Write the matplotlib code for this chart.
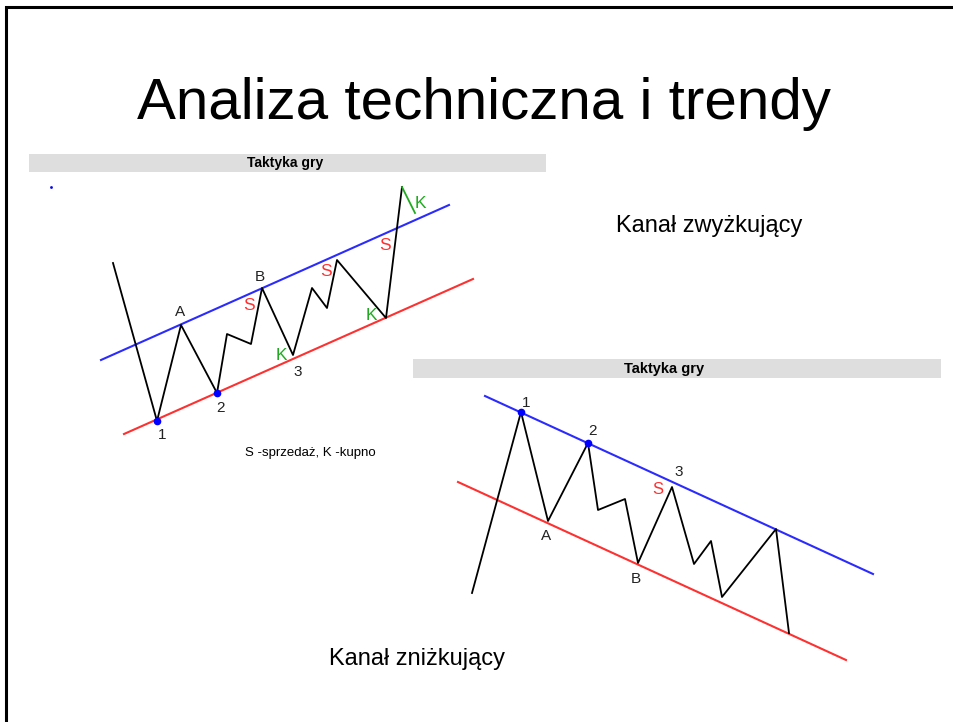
import matplotlib
matplotlib.use("Agg")
import matplotlib.pyplot as plt
from matplotlib.patches import Rectangle

plt.rcParams['font.family'] = ['Liberation Sans', 'DejaVu Sans']

# --- kanał zwyżkujący (górny wykres), współrzędne w pikselach slajdu ---
up_x = [113, 157, 181, 217, 227, 251, 262, 293, 312, 327, 337, 386, 402]
up_y = [263, 421, 325, 393, 334, 344, 288, 355, 288, 308, 260, 318, 187]
up_green_x = [402, 415]
up_green_y = [187, 213]
up_blue_x = [101, 449]
up_blue_y = [360, 205]
up_red_x = [124, 473]
up_red_y = [434, 279]
up_dots_x = [157, 217]
up_dots_y = [421, 393]
up_lab = ["1", "A", "2", "B", "3"]
up_lab_x = [162, 180, 221, 260, 298]
up_lab_y = [435, 312, 408, 277, 372]
up_s_x = [249, 326, 385]
up_s_y = [305, 272, 245]
up_k_x = [281, 371, 420]
up_k_y = [355, 315, 204]

# --- kanał zniżkujący (dolny wykres) ---
dn_x = [472, 521, 548, 588, 598, 625, 638, 672, 694, 711, 722, 776, 789]
dn_y = [593, 412, 521, 443, 510, 499, 563, 487, 564, 541, 597, 529, 633]
dn_blue_x = [485, 873]
dn_blue_y = [396, 574]
dn_red_x = [458, 846]
dn_red_y = [482, 660]
dn_dots_x = [521, 588]
dn_dots_y = [412, 443]
dn_lab = ["1", "2", "3", "A", "B"]
dn_lab_x = [526, 593, 679, 546, 636]
dn_lab_y = [403, 431, 472, 536, 579]
dn_s_x = [658]
dn_s_y = [489]

BLUE = '#2b2bff'
RED = '#ff3030'
GREEN = '#1faa1f'
GRAY = '#dedede'

fig = plt.figure(figsize=(9.54, 7.22), dpi=100)
ax = fig.add_axes([0, 0, 1, 1])
ax.set_xlim(0, 954)
ax.set_ylim(722, 0)
ax.axis('off')

# ramka slajdu
ax.plot([6.5, 6.5, 954], [722, 6.5, 6.5], color='black', lw=2.2, solid_joinstyle='miter')

ax.text(484, 119, "Analiza techniczna i trendy", fontsize=42, ha='center', va='baseline')

# paski "Taktyka gry"
ax.add_patch(Rectangle((29, 154), 517, 18, color=GRAY, lw=0))
ax.text(285, 163, "Taktyka gry", fontsize=10, fontweight='bold', ha='center', va='center')
ax.add_patch(Rectangle((413, 359), 528, 19, color=GRAY, lw=0))
ax.text(664, 368.5, "Taktyka gry", fontsize=10.5, fontweight='bold', ha='center', va='center')

# górny wykres
ax.plot(up_blue_x, up_blue_y, color=BLUE, lw=1.5)
ax.plot(up_red_x, up_red_y, color=RED, lw=1.5)
ax.plot(up_x, up_y, color='black', lw=1.3)
ax.plot(up_green_x, up_green_y, color=GREEN, lw=1.3)
ax.plot(up_dots_x, up_dots_y, 'o', color='#0000ff', ms=4.5, ls='none')
ax.plot([51], [187], 's', color='#0000ff', ms=0.9)
for t, x, y in zip(up_lab, up_lab_x, up_lab_y):
    ax.text(x, y, t, fontsize=11, ha='center', va='center', color='#222222')
for x, y in zip(up_s_x, up_s_y):
    ax.text(x, y, "S", fontsize=12.5, ha='center', va='center', color=RED)
for x, y in zip(up_k_x, up_k_y):
    ax.text(x, y, "K", fontsize=12.5, ha='center', va='center', color=GREEN)
ax.text(310, 453, "S -sprzedaż, K -kupno", fontsize=9.5, ha='center', va='center')

ax.text(709, 226, "Kanał zwyżkujący", fontsize=17, ha='center', va='center')

# dolny wykres
ax.plot(dn_blue_x, dn_blue_y, color=BLUE, lw=1.5)
ax.plot(dn_red_x, dn_red_y, color=RED, lw=1.5)
ax.plot(dn_x, dn_y, color='black', lw=1.3)
ax.plot(dn_dots_x, dn_dots_y, 'o', color='#0000ff', ms=4.5, ls='none')
for t, x, y in zip(dn_lab, dn_lab_x, dn_lab_y):
    ax.text(x, y, t, fontsize=11, ha='center', va='center', color='#222222')
for x, y in zip(dn_s_x, dn_s_y):
    ax.text(x, y, "S", fontsize=12, ha='center', va='center', color=RED)

ax.text(417, 659, "Kanał zniżkujący", fontsize=17, ha='center', va='center')

fig.savefig("out.png", dpi=100)
